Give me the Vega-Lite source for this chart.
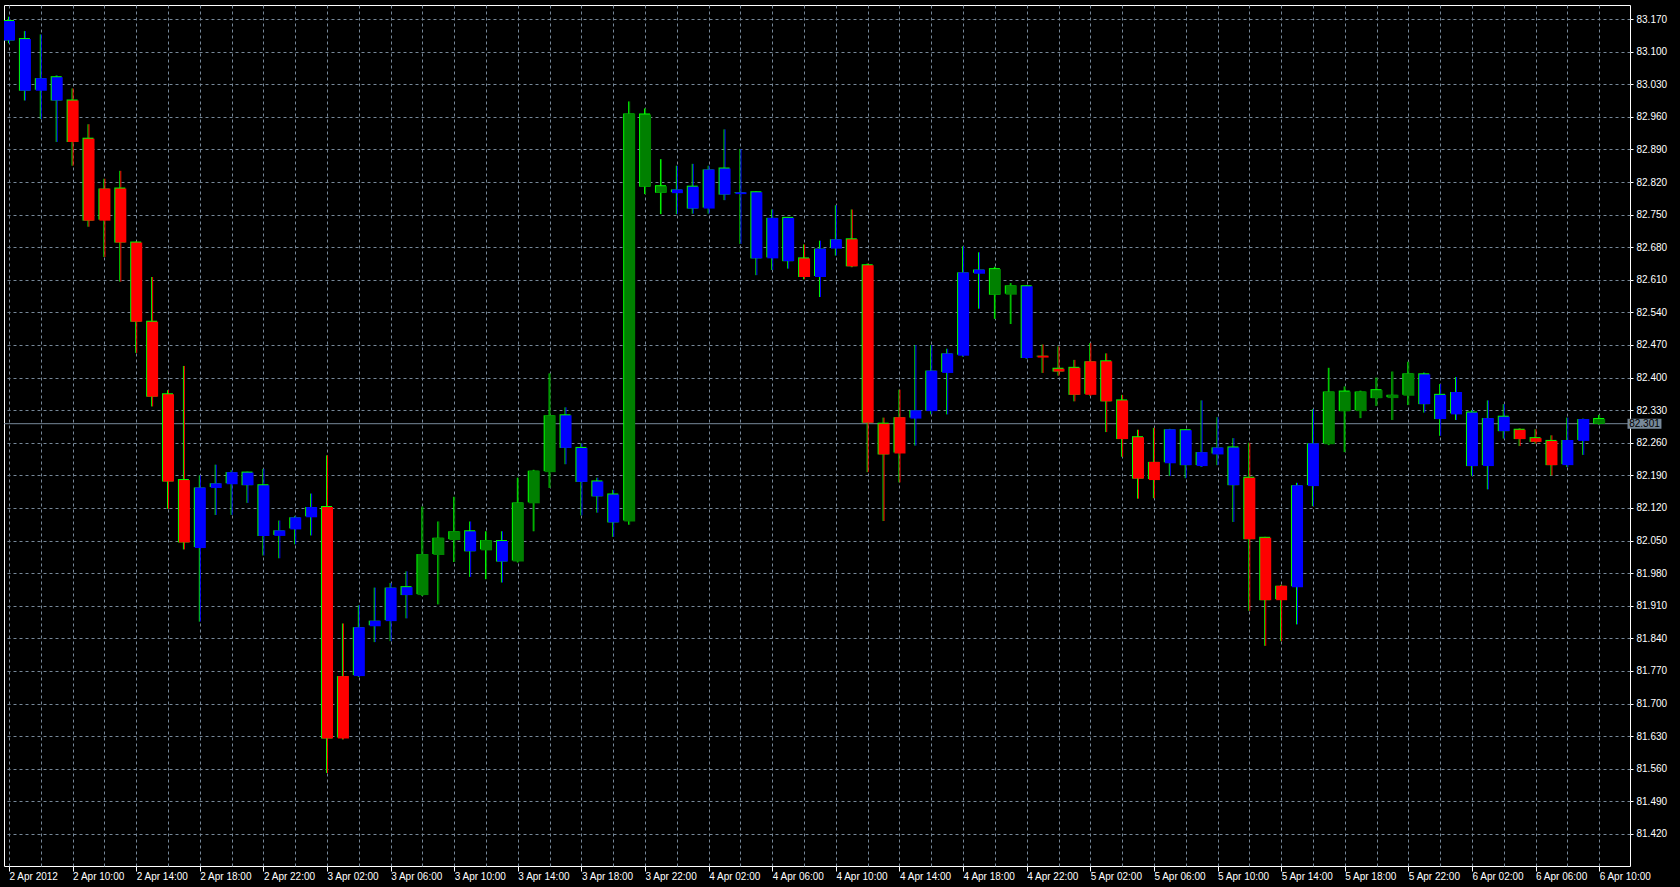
{
  "$schema": "https://vega.github.io/schema/vega-lite/v6.json",
  "width": 1626,
  "height": 861,
  "autosize": {"type": "none"},
  "padding": {"left": 4, "top": 5, "right": 50, "bottom": 21},
  "background": "#000000",
  "config": {
    "view": {"stroke": "#ffffff", "strokeWidth": 1, "fill": "#000000"},
    "axis": {
      "labelFont": "Liberation Sans",
      "labelFontSize": 10,
      "labelColor": "#ffffff",
      "domain": false,
      "grid": true,
      "gridColor": "#778899",
      "gridDash": [3, 3],
      "gridWidth": 1,
      "ticks": true,
      "tickColor": "#ffffff",
      "labelOverlap": false,
      "labelFlush": false,
      "labelBound": false
    }
  },
  "datasets": {
    "bid": [{"price": 82.301}],
    "candles": [
      {"t": "2012-04-02T06:00", "o": 83.166, "h": 83.175, "l": 83.118, "c": 83.124, "trend": "flat"},
      {"t": "2012-04-02T07:00", "o": 83.127, "h": 83.144, "l": 82.995, "c": 83.016, "trend": "flat"},
      {"t": "2012-04-02T08:00", "o": 83.016, "h": 83.137, "l": 82.955, "c": 83.043, "trend": "flat"},
      {"t": "2012-04-02T09:00", "o": 83.045, "h": 83.049, "l": 82.906, "c": 82.995, "trend": "flat"},
      {"t": "2012-04-02T10:00", "o": 82.995, "h": 83.021, "l": 82.855, "c": 82.906, "trend": "down"},
      {"t": "2012-04-02T11:00", "o": 82.913, "h": 82.944, "l": 82.724, "c": 82.737, "trend": "down"},
      {"t": "2012-04-02T12:00", "o": 82.737, "h": 82.827, "l": 82.659, "c": 82.806, "trend": "down"},
      {"t": "2012-04-02T13:00", "o": 82.806, "h": 82.844, "l": 82.606, "c": 82.690, "trend": "down"},
      {"t": "2012-04-02T14:00", "o": 82.690, "h": 82.692, "l": 82.453, "c": 82.520, "trend": "down"},
      {"t": "2012-04-02T15:00", "o": 82.520, "h": 82.616, "l": 82.338, "c": 82.359, "trend": "down"},
      {"t": "2012-04-02T16:00", "o": 82.364, "h": 82.373, "l": 82.118, "c": 82.177, "trend": "down"},
      {"t": "2012-04-02T17:00", "o": 82.180, "h": 82.425, "l": 82.031, "c": 82.046, "trend": "down"},
      {"t": "2012-04-02T18:00", "o": 82.034, "h": 82.190, "l": 81.876, "c": 82.164, "trend": "flat"},
      {"t": "2012-04-02T19:00", "o": 82.163, "h": 82.213, "l": 82.105, "c": 82.173, "trend": "flat"},
      {"t": "2012-04-02T20:00", "o": 82.171, "h": 82.201, "l": 82.105, "c": 82.197, "trend": "flat"},
      {"t": "2012-04-02T21:00", "o": 82.196, "h": 82.198, "l": 82.131, "c": 82.169, "trend": "flat"},
      {"t": "2012-04-02T22:00", "o": 82.169, "h": 82.204, "l": 82.018, "c": 82.060, "trend": "flat"},
      {"t": "2012-04-02T23:00", "o": 82.060, "h": 82.093, "l": 82.012, "c": 82.072, "trend": "flat"},
      {"t": "2012-04-03T00:00", "o": 82.074, "h": 82.103, "l": 82.042, "c": 82.100, "trend": "flat"},
      {"t": "2012-04-03T01:00", "o": 82.100, "h": 82.151, "l": 82.061, "c": 82.122, "trend": "flat"},
      {"t": "2012-04-03T02:00", "o": 82.122, "h": 82.233, "l": 81.551, "c": 81.625, "trend": "down"},
      {"t": "2012-04-03T03:00", "o": 81.625, "h": 81.872, "l": 81.623, "c": 81.759, "trend": "down"},
      {"t": "2012-04-03T04:00", "o": 81.759, "h": 81.911, "l": 81.757, "c": 81.864, "trend": "flat"},
      {"t": "2012-04-03T05:00", "o": 81.866, "h": 81.949, "l": 81.832, "c": 81.878, "trend": "flat"},
      {"t": "2012-04-03T06:00", "o": 81.877, "h": 81.959, "l": 81.834, "c": 81.949, "trend": "flat"},
      {"t": "2012-04-03T07:00", "o": 81.950, "h": 81.984, "l": 81.883, "c": 81.933, "trend": "flat"},
      {"t": "2012-04-03T08:00", "o": 81.933, "h": 82.123, "l": 81.931, "c": 82.021, "trend": "up"},
      {"t": "2012-04-03T09:00", "o": 82.019, "h": 82.091, "l": 81.913, "c": 82.056, "trend": "up"},
      {"t": "2012-04-03T10:00", "o": 82.051, "h": 82.144, "l": 82.004, "c": 82.070, "trend": "up"},
      {"t": "2012-04-03T11:00", "o": 82.070, "h": 82.091, "l": 81.972, "c": 82.027, "trend": "flat"},
      {"t": "2012-04-03T12:00", "o": 82.029, "h": 82.070, "l": 81.967, "c": 82.051, "trend": "up"},
      {"t": "2012-04-03T13:00", "o": 82.049, "h": 82.070, "l": 81.960, "c": 82.005, "trend": "flat"},
      {"t": "2012-04-03T14:00", "o": 82.005, "h": 82.185, "l": 82.003, "c": 82.132, "trend": "up"},
      {"t": "2012-04-03T15:00", "o": 82.130, "h": 82.202, "l": 82.070, "c": 82.200, "trend": "up"},
      {"t": "2012-04-03T16:00", "o": 82.197, "h": 82.409, "l": 82.163, "c": 82.319, "trend": "up"},
      {"t": "2012-04-03T17:00", "o": 82.319, "h": 82.336, "l": 82.214, "c": 82.249, "trend": "flat"},
      {"t": "2012-04-03T18:00", "o": 82.249, "h": 82.259, "l": 82.104, "c": 82.176, "trend": "flat"},
      {"t": "2012-04-03T19:00", "o": 82.177, "h": 82.185, "l": 82.110, "c": 82.145, "trend": "flat"},
      {"t": "2012-04-03T20:00", "o": 82.149, "h": 82.159, "l": 82.058, "c": 82.089, "trend": "flat"},
      {"t": "2012-04-03T21:00", "o": 82.091, "h": 82.993, "l": 82.084, "c": 82.967, "trend": "up"},
      {"t": "2012-04-03T22:00", "o": 82.965, "h": 82.978, "l": 82.794, "c": 82.810, "trend": "up"},
      {"t": "2012-04-03T23:00", "o": 82.811, "h": 82.869, "l": 82.751, "c": 82.797, "trend": "up"},
      {"t": "2012-04-04T00:00", "o": 82.796, "h": 82.855, "l": 82.751, "c": 82.804, "trend": "flat"},
      {"t": "2012-04-04T01:00", "o": 82.810, "h": 82.859, "l": 82.752, "c": 82.763, "trend": "flat"},
      {"t": "2012-04-04T02:00", "o": 82.763, "h": 82.855, "l": 82.752, "c": 82.847, "trend": "flat"},
      {"t": "2012-04-04T03:00", "o": 82.849, "h": 82.933, "l": 82.781, "c": 82.793, "trend": "flat"},
      {"t": "2012-04-04T04:00", "o": 82.794, "h": 82.891, "l": 82.687, "c": 82.798, "trend": "flat"},
      {"t": "2012-04-04T05:00", "o": 82.798, "h": 82.800, "l": 82.620, "c": 82.656, "trend": "flat"},
      {"t": "2012-04-04T06:00", "o": 82.656, "h": 82.761, "l": 82.631, "c": 82.743, "trend": "flat"},
      {"t": "2012-04-04T07:00", "o": 82.743, "h": 82.745, "l": 82.634, "c": 82.650, "trend": "flat"},
      {"t": "2012-04-04T08:00", "o": 82.656, "h": 82.686, "l": 82.611, "c": 82.616, "trend": "down"},
      {"t": "2012-04-04T09:00", "o": 82.616, "h": 82.694, "l": 82.573, "c": 82.677, "trend": "flat"},
      {"t": "2012-04-04T10:00", "o": 82.677, "h": 82.770, "l": 82.662, "c": 82.697, "trend": "flat"},
      {"t": "2012-04-04T11:00", "o": 82.697, "h": 82.761, "l": 82.637, "c": 82.639, "trend": "down"},
      {"t": "2012-04-04T12:00", "o": 82.641, "h": 82.645, "l": 82.197, "c": 82.303, "trend": "down"},
      {"t": "2012-04-04T13:00", "o": 82.301, "h": 82.314, "l": 82.092, "c": 82.235, "trend": "down"},
      {"t": "2012-04-04T14:00", "o": 82.237, "h": 82.374, "l": 82.175, "c": 82.315, "trend": "down"},
      {"t": "2012-04-04T15:00", "o": 82.312, "h": 82.470, "l": 82.254, "c": 82.330, "trend": "flat"},
      {"t": "2012-04-04T16:00", "o": 82.328, "h": 82.470, "l": 82.321, "c": 82.415, "trend": "flat"},
      {"t": "2012-04-04T17:00", "o": 82.410, "h": 82.462, "l": 82.321, "c": 82.452, "trend": "flat"},
      {"t": "2012-04-04T18:00", "o": 82.447, "h": 82.682, "l": 82.445, "c": 82.626, "trend": "flat"},
      {"t": "2012-04-04T19:00", "o": 82.623, "h": 82.669, "l": 82.548, "c": 82.632, "trend": "flat"},
      {"t": "2012-04-04T20:00", "o": 82.633, "h": 82.638, "l": 82.526, "c": 82.578, "trend": "up"},
      {"t": "2012-04-04T21:00", "o": 82.578, "h": 82.603, "l": 82.515, "c": 82.598, "trend": "up"},
      {"t": "2012-04-04T22:00", "o": 82.596, "h": 82.598, "l": 82.440, "c": 82.442, "trend": "flat"},
      {"t": "2012-04-04T23:00", "o": 82.443, "h": 82.471, "l": 82.410, "c": 82.447, "trend": "down"},
      {"t": "2012-04-05T00:00", "o": 82.419, "h": 82.467, "l": 82.404, "c": 82.413, "trend": "down"},
      {"t": "2012-04-05T01:00", "o": 82.421, "h": 82.438, "l": 82.349, "c": 82.363, "trend": "down"},
      {"t": "2012-04-05T02:00", "o": 82.363, "h": 82.474, "l": 82.361, "c": 82.435, "trend": "down"},
      {"t": "2012-04-05T03:00", "o": 82.435, "h": 82.452, "l": 82.283, "c": 82.349, "trend": "down"},
      {"t": "2012-04-05T04:00", "o": 82.351, "h": 82.363, "l": 82.230, "c": 82.268, "trend": "down"},
      {"t": "2012-04-05T05:00", "o": 82.272, "h": 82.288, "l": 82.140, "c": 82.183, "trend": "down"},
      {"t": "2012-04-05T06:00", "o": 82.180, "h": 82.292, "l": 82.141, "c": 82.219, "trend": "down"},
      {"t": "2012-04-05T07:00", "o": 82.216, "h": 82.290, "l": 82.189, "c": 82.289, "trend": "flat"},
      {"t": "2012-04-05T08:00", "o": 82.287, "h": 82.289, "l": 82.184, "c": 82.212, "trend": "flat"},
      {"t": "2012-04-05T09:00", "o": 82.210, "h": 82.351, "l": 82.208, "c": 82.240, "trend": "flat"},
      {"t": "2012-04-05T10:00", "o": 82.235, "h": 82.315, "l": 82.212, "c": 82.250, "trend": "flat"},
      {"t": "2012-04-05T11:00", "o": 82.250, "h": 82.270, "l": 82.090, "c": 82.169, "trend": "flat"},
      {"t": "2012-04-05T12:00", "o": 82.185, "h": 82.260, "l": 81.899, "c": 82.053, "trend": "down"},
      {"t": "2012-04-05T13:00", "o": 82.056, "h": 82.058, "l": 81.824, "c": 81.922, "trend": "down"},
      {"t": "2012-04-05T14:00", "o": 81.922, "h": 81.955, "l": 81.834, "c": 81.953, "trend": "down"},
      {"t": "2012-04-05T15:00", "o": 81.950, "h": 82.174, "l": 81.870, "c": 82.169, "trend": "flat"},
      {"t": "2012-04-05T16:00", "o": 82.167, "h": 82.332, "l": 82.124, "c": 82.259, "trend": "flat"},
      {"t": "2012-04-05T17:00", "o": 82.257, "h": 82.421, "l": 82.255, "c": 82.370, "trend": "up"},
      {"t": "2012-04-05T18:00", "o": 82.370, "h": 82.381, "l": 82.240, "c": 82.328, "trend": "up"},
      {"t": "2012-04-05T19:00", "o": 82.328, "h": 82.372, "l": 82.313, "c": 82.370, "trend": "up"},
      {"t": "2012-04-05T20:00", "o": 82.373, "h": 82.400, "l": 82.339, "c": 82.356, "trend": "up"},
      {"t": "2012-04-05T21:00", "o": 82.356, "h": 82.413, "l": 82.309, "c": 82.363, "trend": "up"},
      {"t": "2012-04-05T22:00", "o": 82.361, "h": 82.434, "l": 82.341, "c": 82.409, "trend": "up"},
      {"t": "2012-04-05T23:00", "o": 82.407, "h": 82.411, "l": 82.325, "c": 82.343, "trend": "flat"},
      {"t": "2012-04-06T00:00", "o": 82.363, "h": 82.386, "l": 82.275, "c": 82.311, "trend": "flat"},
      {"t": "2012-04-06T01:00", "o": 82.321, "h": 82.401, "l": 82.309, "c": 82.369, "trend": "flat"},
      {"t": "2012-04-06T02:00", "o": 82.325, "h": 82.330, "l": 82.189, "c": 82.210, "trend": "flat"},
      {"t": "2012-04-06T03:00", "o": 82.210, "h": 82.351, "l": 82.160, "c": 82.313, "trend": "flat"},
      {"t": "2012-04-06T04:00", "o": 82.316, "h": 82.343, "l": 82.269, "c": 82.285, "trend": "flat"},
      {"t": "2012-04-06T05:00", "o": 82.288, "h": 82.291, "l": 82.253, "c": 82.268, "trend": "down"},
      {"t": "2012-04-06T06:00", "o": 82.270, "h": 82.289, "l": 82.258, "c": 82.262, "trend": "down"},
      {"t": "2012-04-06T07:00", "o": 82.264, "h": 82.276, "l": 82.190, "c": 82.212, "trend": "down"},
      {"t": "2012-04-06T08:00", "o": 82.212, "h": 82.314, "l": 82.208, "c": 82.266, "trend": "flat"},
      {"t": "2012-04-06T09:00", "o": 82.264, "h": 82.312, "l": 82.234, "c": 82.311, "trend": "flat"},
      {"t": "2012-04-06T10:00", "o": 82.311, "h": 82.320, "l": 82.299, "c": 82.301, "trend": "up"}
    ]
  },
  "layer": [
    {
      "data": {"name": "bid"},
      "mark": {"type": "rule", "color": "#778899", "strokeWidth": 1},
      "encoding": {
        "y": {"field": "price", "type": "quantitative", "title": null, "scale": {"domain": [81.3512, 83.2001], "nice": false, "zero": false}}
      }
    },
    {
      "data": {"name": "candles"},
      "mark": {"type": "rule", "color": "#00ff00", "strokeWidth": 1, "xOffset": -0.5, "clip": true},
      "encoding": {
        "x": {
          "field": "t", "type": "temporal", "title": null,
          "scale": {"domain": [{"year": 2012, "month": 4, "date": 2, "hours": 6}, {"year": 2012, "month": 4, "date": 6, "hours": 11, "minutes": 37, "seconds": 30}], "nice": false},
          "axis": {
            "orient": "bottom",
            "title": null,
            "tickCount": 80,
            "values": [
              {"year": 2012, "month": 4, "date": 2, "hours": 6}, {"year": 2012, "month": 4, "date": 2, "hours": 8}, {"year": 2012, "month": 4, "date": 2, "hours": 10}, {"year": 2012, "month": 4, "date": 2, "hours": 12}, {"year": 2012, "month": 4, "date": 2, "hours": 14}, {"year": 2012, "month": 4, "date": 2, "hours": 16}, {"year": 2012, "month": 4, "date": 2, "hours": 18}, {"year": 2012, "month": 4, "date": 2, "hours": 20}, {"year": 2012, "month": 4, "date": 2, "hours": 22},
              {"year": 2012, "month": 4, "date": 3, "hours": 0}, {"year": 2012, "month": 4, "date": 3, "hours": 2}, {"year": 2012, "month": 4, "date": 3, "hours": 4}, {"year": 2012, "month": 4, "date": 3, "hours": 6}, {"year": 2012, "month": 4, "date": 3, "hours": 8}, {"year": 2012, "month": 4, "date": 3, "hours": 10}, {"year": 2012, "month": 4, "date": 3, "hours": 12}, {"year": 2012, "month": 4, "date": 3, "hours": 14}, {"year": 2012, "month": 4, "date": 3, "hours": 16}, {"year": 2012, "month": 4, "date": 3, "hours": 18}, {"year": 2012, "month": 4, "date": 3, "hours": 20}, {"year": 2012, "month": 4, "date": 3, "hours": 22},
              {"year": 2012, "month": 4, "date": 4, "hours": 0}, {"year": 2012, "month": 4, "date": 4, "hours": 2}, {"year": 2012, "month": 4, "date": 4, "hours": 4}, {"year": 2012, "month": 4, "date": 4, "hours": 6}, {"year": 2012, "month": 4, "date": 4, "hours": 8}, {"year": 2012, "month": 4, "date": 4, "hours": 10}, {"year": 2012, "month": 4, "date": 4, "hours": 12}, {"year": 2012, "month": 4, "date": 4, "hours": 14}, {"year": 2012, "month": 4, "date": 4, "hours": 16}, {"year": 2012, "month": 4, "date": 4, "hours": 18}, {"year": 2012, "month": 4, "date": 4, "hours": 20}, {"year": 2012, "month": 4, "date": 4, "hours": 22},
              {"year": 2012, "month": 4, "date": 5, "hours": 0}, {"year": 2012, "month": 4, "date": 5, "hours": 2}, {"year": 2012, "month": 4, "date": 5, "hours": 4}, {"year": 2012, "month": 4, "date": 5, "hours": 6}, {"year": 2012, "month": 4, "date": 5, "hours": 8}, {"year": 2012, "month": 4, "date": 5, "hours": 10}, {"year": 2012, "month": 4, "date": 5, "hours": 12}, {"year": 2012, "month": 4, "date": 5, "hours": 14}, {"year": 2012, "month": 4, "date": 5, "hours": 16}, {"year": 2012, "month": 4, "date": 5, "hours": 18}, {"year": 2012, "month": 4, "date": 5, "hours": 20}, {"year": 2012, "month": 4, "date": 5, "hours": 22},
              {"year": 2012, "month": 4, "date": 6, "hours": 0}, {"year": 2012, "month": 4, "date": 6, "hours": 2}, {"year": 2012, "month": 4, "date": 6, "hours": 4}, {"year": 2012, "month": 4, "date": 6, "hours": 6}, {"year": 2012, "month": 4, "date": 6, "hours": 8}, {"year": 2012, "month": 4, "date": 6, "hours": 10}
            ],
            "tickSize": 5,
            "tickOpacity": {"condition": {"test": "hours(datum.value) % 4 == 2", "value": 1}, "value": 0},
            "labelExpr": "hours(datum.value) % 4 != 2 ? '' : ((date(datum.value) == 2 && hours(datum.value) == 6) ? '2 Apr 2012' : timeFormat(datum.value, '%-d %b %H:%M'))",
            "labelAlign": "left",
            "labelBaseline": "top",
            "labelPadding": 0,
            "labelOverlap": false,
            "labelFlush": false,
            "labelBound": false
          }
        },
        "y": {
          "field": "l", "type": "quantitative", "title": null,
          "scale": {"domain": [81.3512, 83.2001], "nice": false, "zero": false},
          "axis": {
            "orient": "right",
            "title": null,
            "tickCount": 40,
            "values": [81.42, 81.49, 81.56, 81.63, 81.70, 81.77, 81.84, 81.91, 81.98, 82.05, 82.12, 82.19, 82.26, 82.33, 82.40, 82.47, 82.54, 82.61, 82.68, 82.75, 82.82, 82.89, 82.96, 83.03, 83.10, 83.17],
            "format": ".3f",
            "tickSize": 3,
            "labelPadding": 3,
            "labelAlign": "left",
            "labelBaseline": "middle",
            "labelOverlap": false,
            "labelFlush": false,
            "labelBound": false
          }
        },
        "y2": {"field": "h"}
      }
    },
    {
      "data": {"name": "candles"},
      "mark": {"type": "rule", "strokeWidth": 1, "xOffset": 0.5, "clip": true},
      "encoding": {
        "x": {"field": "t", "type": "temporal", "title": null, "scale": {"domain": [{"year": 2012, "month": 4, "date": 2, "hours": 6}, {"year": 2012, "month": 4, "date": 6, "hours": 11, "minutes": 37, "seconds": 30}], "nice": false}},
        "y": {"field": "l", "type": "quantitative", "title": null, "scale": {"domain": [81.3512, 83.2001], "nice": false, "zero": false}},
        "y2": {"field": "h"},
        "color": {"field": "trend", "type": "nominal", "scale": {"domain": ["flat", "down", "up"], "range": ["#0000ff", "#ff0000", "#008000"]}, "legend": null}
      }
    },
    {
      "data": {"name": "candles"},
      "mark": {"type": "bar", "size": 11, "xOffset": -0.5, "yOffset": -1, "color": "#00ff00", "clip": true},
      "encoding": {
        "x": {"field": "t", "type": "temporal", "title": null, "scale": {"domain": [{"year": 2012, "month": 4, "date": 2, "hours": 6}, {"year": 2012, "month": 4, "date": 6, "hours": 11, "minutes": 37, "seconds": 30}], "nice": false}},
        "y": {"field": "o", "type": "quantitative", "title": null, "scale": {"domain": [81.3512, 83.2001], "nice": false, "zero": false}},
        "y2": {"field": "c"}
      }
    },
    {
      "data": {"name": "candles"},
      "mark": {"type": "bar", "size": 11, "xOffset": 0.5, "clip": true},
      "encoding": {
        "x": {"field": "t", "type": "temporal", "title": null, "scale": {"domain": [{"year": 2012, "month": 4, "date": 2, "hours": 6}, {"year": 2012, "month": 4, "date": 6, "hours": 11, "minutes": 37, "seconds": 30}], "nice": false}},
        "y": {"field": "o", "type": "quantitative", "title": null, "scale": {"domain": [81.3512, 83.2001], "nice": false, "zero": false}},
        "y2": {"field": "c"},
        "color": {"field": "trend", "type": "nominal", "scale": {"domain": ["flat", "down", "up"], "range": ["#0000ff", "#ff0000", "#008000"]}, "legend": null}
      }
    },
    {
      "data": {"name": "bid"},
      "mark": {"type": "rect", "color": "#778899", "clip": false, "yOffset": -5, "y2Offset": 5},
      "encoding": {
        "x": {"datum": {"year": 2012, "month": 4, "date": 6, "hours": 11, "minutes": 47}, "type": "temporal", "title": null},
        "x2": {"datum": {"year": 2012, "month": 4, "date": 6, "hours": 13, "minutes": 55}},
        "y": {"field": "price", "type": "quantitative", "title": null},
        "y2": {"field": "price"}
      }
    },
    {
      "data": {"name": "bid"},
      "mark": {"type": "text", "color": "#000000", "font": "Liberation Sans", "fontSize": 10, "align": "center", "baseline": "middle", "clip": false},
      "encoding": {
        "x": {"datum": {"year": 2012, "month": 4, "date": 6, "hours": 12, "minutes": 51}, "type": "temporal", "title": null},
        "y": {"field": "price", "type": "quantitative", "title": null},
        "text": {"field": "price", "type": "quantitative", "format": ".3f"}
      }
    }
  ]
}
